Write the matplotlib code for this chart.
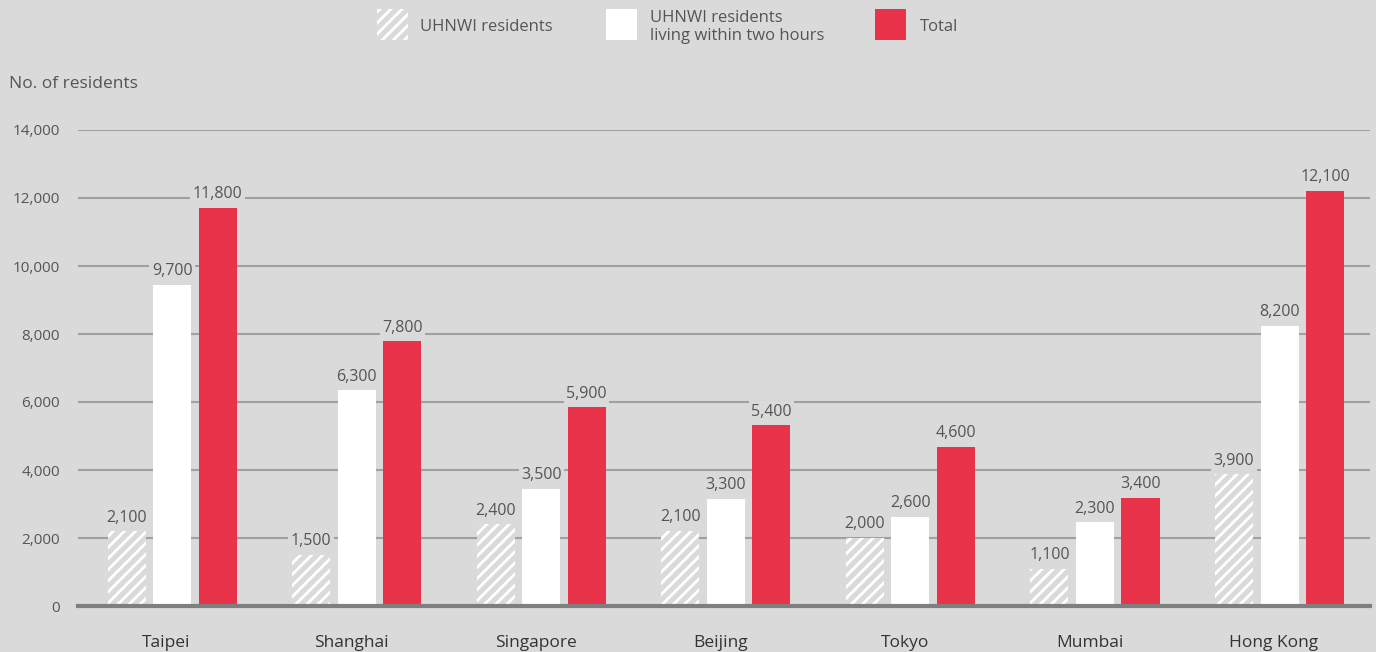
import numpy as np
import matplotlib
matplotlib.use("Agg")
import matplotlib.pyplot as plt
from matplotlib.patches import Rectangle

cities = ["Taipei", "Shanghai", "Singapore", "Beijing", "Tokyo", "Mumbai", "Hong Kong"]
# bar heights as drawn in the picture
uhnwi = [2200, 1500, 2410, 2210, 2000, 1100, 3870]
within_two = [9440, 6350, 3440, 3160, 2620, 2460, 8240]
total = [11710, 7790, 5850, 5320, 4690, 3190, 12210]
# value labels as printed
uhnwi_lbl = ["2,100", "1,500", "2,400", "2,100", "2,000", "1,100", "3,900"]
within_lbl = ["9,700", "6,300", "3,500", "3,300", "2,600", "2,300", "8,200"]
total_lbl = ["11,800", "7,800", "5,900", "5,400", "4,600", "3,400", "12,100"]
yticks = [0, 2000, 4000, 6000, 8000, 10000, 12000, 14000]

bg = "#dadada"
red = "#e8334a"
txt = "#555555"
plt.rcParams['font.family'] = ['Open Sans', 'DejaVu Sans']
plt.rcParams['hatch.linewidth'] = 2.0
plt.rcParams['hatch.color'] = 'white'

fig = plt.figure(figsize=(13.76, 6.52), dpi=100, facecolor=bg)
ax = fig.add_axes([78/1376, 1-606/652, (1370-78)/1376, (606-130)/652])
ax.set_facecolor(bg)

x = np.arange(len(cities))
w = 0.206
off = 0.2466
shift = 0.01

b1 = ax.bar(x - off + shift, uhnwi, w, color=bg, edgecolor='white', hatch='///', linewidth=0, zorder=3)
b2 = ax.bar(x + shift, within_two, w, color='white', linewidth=0, zorder=3)
b3 = ax.bar(x + off + shift, total, w, color=red, linewidth=0, zorder=3)

for bars, labels in [(b1, uhnwi_lbl), (b2, within_lbl), (b3, total_lbl)]:
    for b, lab in zip(bars, labels):
        ax.annotate(lab, (b.get_x() + b.get_width()/2, b.get_height()),
                    xytext=(0, 4), textcoords='offset points', ha='center', va='bottom',
                    fontsize=11.5, color=txt, zorder=4,
                    bbox=dict(boxstyle='square,pad=0.15', fc=bg, ec='none'))

ax.set_xlim(-0.5, 6.5)
ax.set_ylim(0, 14000)
ax.set_yticks(yticks)
ax.set_yticklabels([f"{v:,}" for v in yticks], fontsize=11, color=txt)
ax.set_xticks(x - 0.02)
ax.set_xticklabels(cities, fontsize=12.5, color="#333333")
ax.tick_params(axis='both', length=0)
ax.tick_params(axis='y', pad=13)
ax.tick_params(axis='x', pad=21)
ax.grid(axis='y', color="#a0a0a0", linewidth=1.5, zorder=0)
for s in ["top", "right", "left"]:
    ax.spines[s].set_visible(False)
ax.spines["bottom"].set_color("#7f7f7f")
ax.spines["bottom"].set_linewidth(3)
ax.spines["bottom"].set_zorder(5)

fig.text(9/1376, 1-84/652, "No. of residents", fontsize=12.5, color=txt, va='center')

# legend
def swatch(x0, **kw):
    fig.patches.append(Rectangle((x0/1376, 1-40/652), 31/1376, 31/652,
                                 transform=fig.transFigure, linewidth=0, **kw))

swatch(377, facecolor=bg, edgecolor='white', hatch='///')
fig.text(420/1376, 1-27/652, "UHNWI residents", fontsize=12, color=txt, va='center')
swatch(606, facecolor='white')
fig.text(650/1376, 1-27/652, "UHNWI residents\nliving within two hours", fontsize=12,
         color=txt, va='center', linespacing=1.15)
swatch(875, facecolor=red)
fig.text(920/1376, 1-27/652, "Total", fontsize=12, color=txt, va='center')

fig.savefig("out.png", dpi=100, facecolor=bg)
